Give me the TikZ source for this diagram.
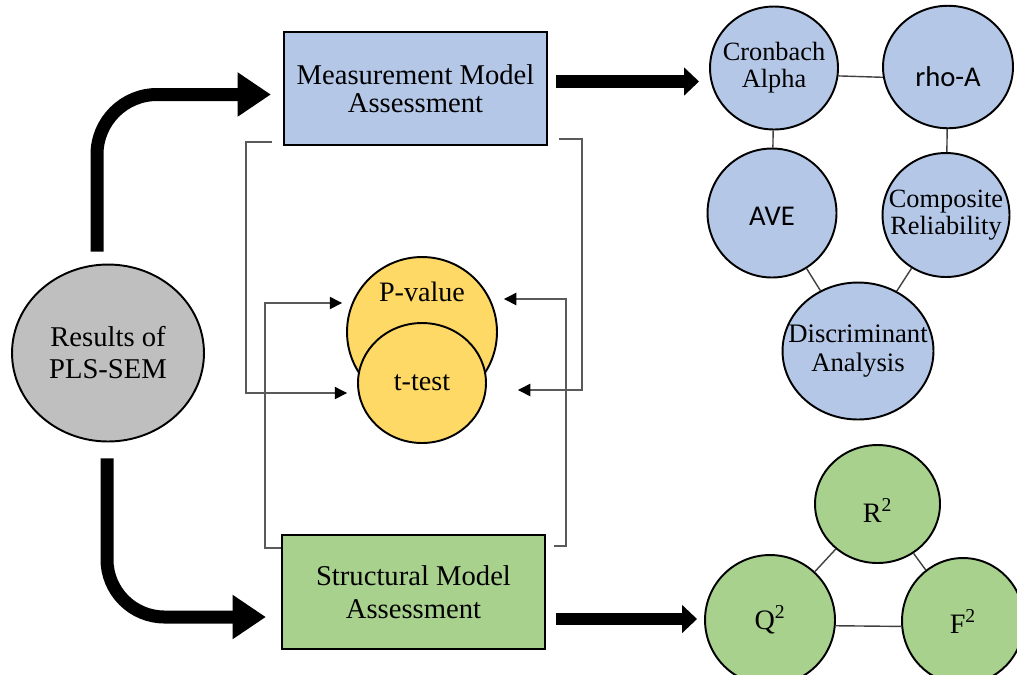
\documentclass[tikz,border=0pt]{standalone}
\usepackage{fontspec}
\setmainfont{Liberation Serif}
\newfontfamily\calibfont{Carlito}
\usetikzlibrary{
  arrows.meta,
  shapes.geometric,
  positioning,
  calc
}
\definecolor{pmBlue}{HTML}{B4C7E7}
\definecolor{pmGreen}{HTML}{A9D18E}
\definecolor{pmYellow}{HTML}{FFD966}
\definecolor{pmGrey}{HTML}{BFBFBF}
\definecolor{pmLink}{HTML}{404040}
\definecolor{pmFeed}{HTML}{5A5A5A}
\tikzset{
  pmbox/.style={
    draw, line width=1.3pt, minimum width=5.26cm, align=center
  },
  measbox/.style={pmbox, fill=pmBlue, minimum height=2.26cm, font=\fontsize{16.3}{16}\selectfont},
  structbox/.style={pmbox, fill=pmGreen, minimum height=2.28cm, font=\fontsize{16.3}{18.8}\selectfont},
  blob/.style={draw, ellipse, line width=1.1pt, inner sep=0pt},
  resblob/.style={blob, fill=pmGrey, minimum width=3.84cm, minimum height=3.54cm,
    align=center, font=\fontsize{16.3}{18.2}\selectfont},
  bluec/.style={blob, fill=pmBlue},
  greenc/.style={blob, fill=pmGreen},
  yellowc/.style={blob, fill=pmYellow},
  intext/.style={align=center, font=\fontsize{15}{15.5}\selectfont},
  tmtext/.style={font=\fontsize{16}{18}\selectfont},
  sanstext/.style={font=\calibfont\fontsize{16.3}{18}\selectfont},
  bigarrow/.style={-{Triangle[length=19pt, width=24pt]}, line width=7.4pt},
  midarrow/.style={-{Triangle[length=8.5pt, width=15.5pt]}, line width=7.2pt},
  fb/.style={-{Triangle[length=7pt, width=7pt, black]}, line width=0.75pt, pmFeed},
  link/.style={line width=0.8pt, pmLink}
}
\begin{document}
\begin{tikzpicture}[x=0.02cm, y=-0.02cm]
  \useasboundingbox (0,0) rectangle (1017,674);

  % start and the two assessments
  \node[resblob] (res) at (108,353) {Results of\\PLS-SEM};
  \node[measbox] (meas) at (415.5,88.5) {Measurement Model\\Assessment};
  \node[structbox] (struct) at (413.5,592) {Structural Model\\Assessment};

  % significance tests
  \node[yellowc, minimum width=3cm, minimum height=3cm,
    label={[tmtext, yshift=0.8cm]center:P-value}] (pval) at (422,332) {};
  \node[yellowc, minimum width=2.56cm, minimum height=2.4cm,
    label={[tmtext]center:t-test}] (ttest) at (422,383) {};

  % measurement criteria
  \node[bluec, minimum width=2.56cm, minimum height=2.46cm,
    label={[intext]center:Cronbach\\Alpha}] (cronb) at (774,68) {};
  \node[bluec, minimum width=2.6cm, minimum height=2.45cm,
    label={[sanstext, yshift=-0.2cm]center:rho-A}] (rhoa) at (948,67) {};
  \node[bluec, minimum width=2.58cm, minimum height=2.58cm,
    label={[sanstext, yshift=-0.06cm]center:AVE}] (ave) at (772,213) {};
  \node[bluec, minimum width=2.54cm, minimum height=2.48cm,
    label={[intext]center:Composite\\Reliability}] (comp) at (946,215) {};
  \node[bluec, minimum width=3.02cm, minimum height=2.74cm,
    label={[intext, font=\fontsize{15.2}{16.5}\selectfont]center:Discriminant\\Analysis}] (disc) at (858,351) {};

  % structural criteria
  \node[greenc, minimum width=2.5cm, minimum height=2.36cm,
    label={[tmtext, yshift=-0.12cm]center:R\textsuperscript{2}}] (r2) at (877.5,504) {};
  \node[greenc, minimum width=2.6cm, minimum height=2.6cm,
    label={[tmtext]center:Q\textsuperscript{2}}] (q2) at (770,620) {};
  \node[greenc, minimum width=2.44cm, minimum height=2.52cm,
    label={[tmtext]center:F\textsuperscript{2}}] (f2) at (963,621) {};

  % main flow
  \draw[bigarrow, rounded corners=1.2cm] ([shift={(-11,-12)}]res.north) |- ([shift={(-12,6)}]meas.west);
  \draw[bigarrow, rounded corners=1.15cm] ([shift={(-1,16)}]res.south) |- ([shift={(-15,25)}]struct.west);
  \draw[midarrow] ([shift={(8,-7)}]meas.east) -- ([shift={(-10,13.5)}]cronb.west);
  \draw[midarrow] ([shift={(10,27)}]struct.east) -- ([shift={(-7,-1)}]q2.west);

  % feedback to the tests
  \draw[fb] ([shift={(-11,-4)}]meas.south west) -- ++(-26,0) |- ([shift={(-10,10)}]ttest.west);
  \draw[fb] ([shift={(11,-7)}]meas.south east) -- ++(23,0) |- ([shift={(31,7)}]ttest.east);
  \draw[fb] ([shift={(0,14)}]struct.north west) -- ++(-16,0) |- ([shift={(-4,-29)}]pval.west);
  \draw[fb] ([shift={(8,12)}]struct.north east) -- ++(12,0) |- ([shift={(6,-33)}]pval.east);

  % links between criteria
  \draw[link] (cronb.-7) -- (rhoa.189);
  \draw[link] (cronb) -- (ave);
  \draw[link] (rhoa) -- (comp);
  \draw[link] (ave) -- (disc);
  \draw[link] (comp) -- (disc);
  \draw[link] (r2) -- (q2);
  \draw[link] (r2) -- (f2);
  \draw[link] (q2.-5) -- (f2.185);
\end{tikzpicture}
\end{document}
